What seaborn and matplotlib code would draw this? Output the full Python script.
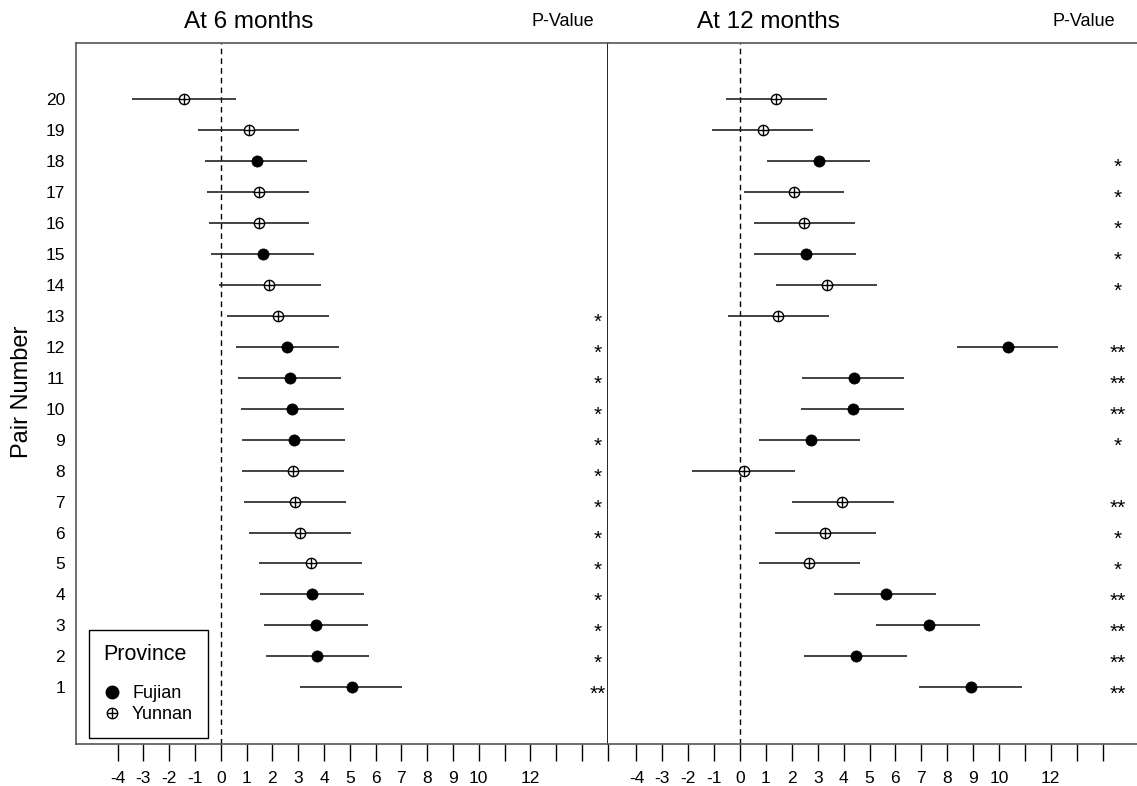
# Forest plot: paired differences at 6 and 12 months, Fujian vs Yunnan pairs

import pandas as pd
import seaborn as sns
import matplotlib.pyplot as plt
import matplotlib.transforms as mtransforms
from matplotlib.lines import Line2D

pairs = list(range(1, 21))
province = ['Fujian', 'Fujian', 'Fujian', 'Fujian', 'Yunnan', 'Yunnan', 'Yunnan', 'Yunnan',
            'Fujian', 'Fujian', 'Fujian', 'Fujian', 'Yunnan', 'Yunnan', 'Fujian', 'Yunnan',
            'Yunnan', 'Fujian', 'Yunnan', 'Yunnan']

# at 6 months
est_6 = [5.09, 3.73, 3.69, 3.55, 3.49, 3.06, 2.88, 2.80, 2.85, 2.76,
         2.67, 2.58, 2.21, 1.87, 1.63, 1.47, 1.47, 1.41, 1.08, -1.43]
lo_6 = [3.07, 1.77, 1.69, 1.53, 1.50, 1.11, 0.92, 0.84, 0.84, 0.78,
        0.68, 0.60, 0.26, -0.08, -0.39, -0.47, -0.54, -0.62, -0.89, -3.43]
hi_6 = [7.04, 5.74, 5.70, 5.54, 5.47, 5.04, 4.84, 4.78, 4.81, 4.77,
        4.65, 4.59, 4.19, 3.89, 3.60, 3.42, 3.42, 3.34, 3.03, 0.58]
p_6 = ['**', '*', '*', '*', '*', '*', '*', '*', '*', '*',
       '*', '*', '*', '', '', '', '', '', '', '']

# at 12 months
est_12 = [8.91, 4.48, 7.29, 5.63, 2.68, 3.28, 3.93, 0.17, 2.73, 4.35,
          4.39, 10.35, 1.48, 3.37, 2.55, 2.48, 2.08, 3.05, 0.88, 1.39]
lo_12 = [6.91, 2.46, 5.26, 3.62, 0.75, 1.35, 2.01, -1.84, 0.75, 2.36,
         2.39, 8.37, -0.45, 1.39, 0.55, 0.55, 0.17, 1.04, -1.07, -0.53]
hi_12 = [10.90, 6.45, 9.25, 7.56, 4.62, 5.26, 5.96, 2.12, 4.65, 6.33,
         6.33, 12.28, 3.42, 5.30, 4.49, 4.45, 4.03, 5.03, 2.82, 3.36]
p_12 = ['**', '**', '**', '**', '*', '*', '**', '', '*', '**',
        '**', '**', '', '*', '*', '*', '*', '*', '', '']

tick_vals = list(range(-4, 16))
tick_labels = ['-4', '-3', '-2', '-1', '0', '1', '2', '3', '4', '5', '6', '7', '8', '9', '10',
               '', '12', '', '', '']

sns.set_style('white')
plt.rcParams['font.family'] = ['Liberation Sans', 'DejaVu Sans']
plt.rcParams['text.color'] = 'black'
plt.rcParams['xtick.color'] = 'black'
plt.rcParams['ytick.color'] = 'black'

fig = plt.figure(figsize=(11.37, 7.86), dpi=100)
ax1 = fig.add_axes([76 / 1137, 42.5 / 786, 532 / 1137, 700.5 / 786])
ax2 = fig.add_axes([608 / 1137, 42.5 / 786, 529 / 1137, 700.5 / 786])

panels = [
    (ax1, est_6, lo_6, hi_6, p_6, 'At 6 months', (-5.61, 15.01)),
    (ax2, est_12, lo_12, hi_12, p_12, 'At 12 months', (-5.10, 15.33)),
]

for ax, est, lo, hi, pv, title, xlim in panels:
    df = pd.DataFrame({'pair': pairs, 'province': province, 'est': est, 'lo': lo, 'hi': hi, 'p': pv})
    ax.hlines(df['pair'], df['lo'], df['hi'], color='#222222', lw=1.2, zorder=2)
    ax.axvline(0, color='black', lw=1, ls=(0, (4, 3)), zorder=1)

    fj = df[df['province'] == 'Fujian']
    yn = df[df['province'] == 'Yunnan']
    sns.scatterplot(data=fj, x='est', y='pair', marker='o', s=65, color='black',
                    edgecolor='black', linewidth=0.5, ax=ax, zorder=3)
    sns.scatterplot(data=yn, x='est', y='pair', marker='o', s=55, facecolor='white',
                    edgecolor='black', linewidth=1, ax=ax, zorder=3)
    sns.scatterplot(data=yn, x='est', y='pair', marker='+', s=55, color='black',
                    linewidth=1, ax=ax, zorder=4)

    for _, r in df.iterrows():
        if r['p']:
            ax.text(14.6, r['pair'] - 0.22, r['p'], ha='center', va='center', fontsize=15)

    trans = mtransforms.blended_transform_factory(ax.transData, ax.transAxes)
    ax.text(1.1, 1.03, title, transform=trans, ha='center', va='center', fontsize=17.5)
    ax.text(13.27, 1.03, 'P-Value', transform=trans, ha='center', va='center', fontsize=13)

    ax.set_xlim(*xlim)
    ax.set_ylim(-0.81, 21.8)
    ax.set_xlabel('')
    ax.set_ylabel('')
    ax.tick_params(axis='x', length=12, width=1, direction='out', pad=8,
                   labelsize=12.5, color='black', bottom=True)
    for sp in ax.spines.values():
        sp.set_color('#555555')
        sp.set_linewidth(1.2)

ax1.set_xticks(tick_vals)
ax1.set_xticklabels(tick_labels)
ax2.set_xticks(tick_vals[:-1])
ax2.set_xticklabels(tick_labels[:-1])

ax1.set_yticks(pairs)
ax1.set_yticklabels([str(p) for p in pairs])
ax1.tick_params(axis='y', length=0, pad=8, labelsize=12.5)
ax2.set_yticks([])
ax1.spines['right'].set_color('black')
ax2.spines['left'].set_visible(False)
ax2.spines['right'].set_visible(False)

fig.text(22 / 1137, 1 - 392 / 786, 'Pair Number', rotation=90, ha='center', va='center', fontsize=17)

h_fj = Line2D([], [], marker='o', color='black', ls='', ms=9)
h_yn = (Line2D([], [], marker='o', mfc='white', mec='black', ls='', ms=7.5, mew=1),
        Line2D([], [], marker='+', color='black', ls='', ms=7.5, mew=1))
leg = ax1.legend([h_fj, h_yn], ['Fujian', 'Yunnan'], title='Province', loc='lower left',
                 bbox_to_anchor=(0.024, 0.008), borderaxespad=0, frameon=True, fancybox=False,
                 framealpha=1, edgecolor='black', fontsize=13, title_fontsize=15.5,
                 alignment='left', borderpad=0.8, labelspacing=0.25, handletextpad=0.6,
                 handlelength=1.0)
leg.get_frame().set_linewidth(1)
leg._legend_box.sep = 14

fig.savefig('out.png', dpi=100)
